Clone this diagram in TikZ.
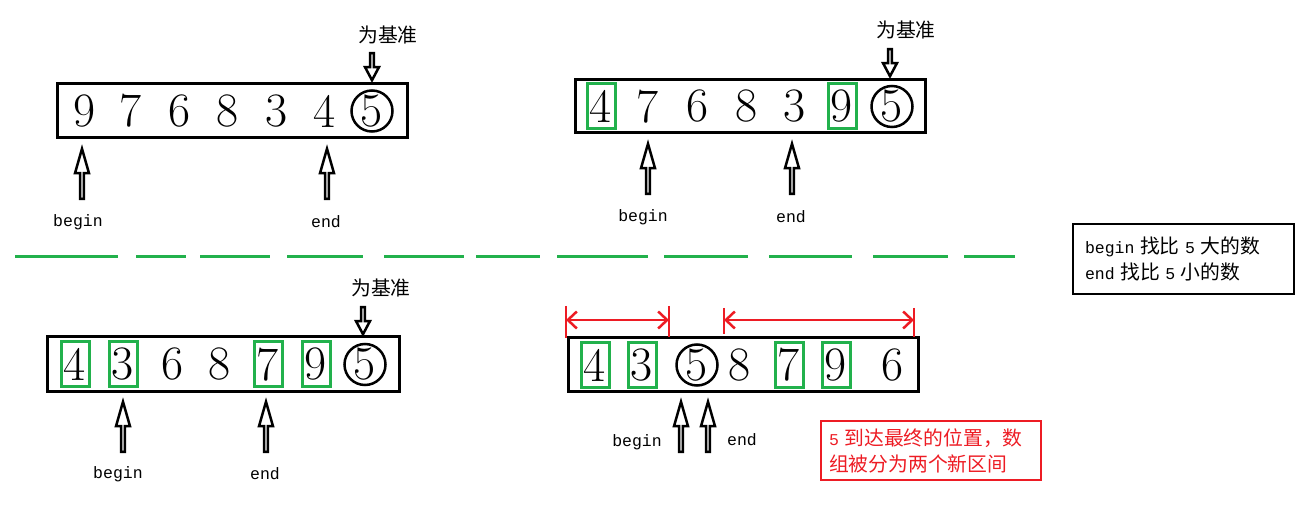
\documentclass[tikz,border=0pt]{standalone}
\usepackage{fontspec}
\setmonofont{Liberation Mono}
\newfontfamily\cjk[Scale=1.2]{Noto Sans CJK SC}
\usetikzlibrary{arrows.meta,shapes.arrows}
\definecolor{paintgreen}{RGB}{34,177,76}
\definecolor{paintred}{RGB}{237,28,36}

\begin{document}
\begin{tikzpicture}[x=1pt,y=-1pt,
    numcell/.style={inner sep=0pt, font=\fontsize{48}{48}\selectfont},
    nomark/.style={},
    greenbox/.style={draw=paintgreen, line width=3pt, minimum width=28pt, minimum height=45pt},
    pivot/.style={draw, circle, line width=2.5pt, minimum size=41pt},
    arraybox/.style={draw, line width=3pt, minimum width=350pt, minimum height=54pt},
    upptr/.style={single arrow, draw, line width=2.5pt, inner sep=0pt, minimum width=14pt,
        minimum height=50pt, single arrow head extend=3.5pt, single arrow tip angle=32,
        shape border rotate=90},
    downptr/.style={upptr, minimum height=27pt, single arrow tip angle=56, shape border rotate=270},
    lbl/.style={font=\ttfamily\fontsize{16.5}{26}\selectfont, inner sep=0pt},
    notebox/.style={lbl, draw, line width=2.5pt, align=left, inner ysep=0pt},
    redline/.style={paintred, line width=2.5pt},
    span/.style={redline, {Straight Barb[length=9pt,width=17pt]}-{Straight Barb[length=9pt,width=17pt]}}
]
\useasboundingbox (0,0) rectangle (1307,510);

% first step: 5 is the pivot
\node[arraybox] (arr1) at (232,111) {};
\foreach \d/\px/\mk [count=\i] in {9/85/nomark, 7/131/nomark, 6/180/nomark, 8/228/nomark,
    3/277/nomark, 4/325/nomark, 5/372/pivot}
  \node[numcell,\mk] (a1-\i) at (\px,111) {\d};
\node[lbl] (piv1) at (388,35) {\cjk 为基准};
\node[downptr] (piv1ptr) at (372,65) {};
\node[upptr] (beg1) at (82,177) {};
\node[upptr] (end1) at (327,177) {};
\node[lbl] (beg1l) at (78,222) {begin};
\node[lbl] (end1l) at (326,222) {end};

% second step: 4 and 9 swapped
\node[arraybox, minimum height=53pt] (arr2) at (750,106.5) {};
\foreach \d/\px/\mk [count=\i] in {4/601/greenbox, 7/648/nomark, 6/698/nomark, 8/747/nomark,
    3/795/nomark, 9/842/greenbox, 5/892/pivot}
  \node[numcell,\mk] (a2-\i) at (\px,106.5) {\d};
\node[lbl] (piv2) at (906,30) {\cjk 为基准};
\node[downptr] (piv2ptr) at (890,61) {};
\node[upptr] (beg2) at (648,172) {};
\node[upptr] (end2) at (792,172) {};
\node[lbl] (beg2l) at (643,217) {begin};
\node[lbl] (end2l) at (791,217) {end};

% separator
\foreach \sa/\sb in {15/118, 136/186, 200/270, 287/363, 384/464, 476/540,
    557/648, 664/748, 769/852, 873/948, 964/1015}
  \draw[paintgreen, line width=3pt] (\sa,257) -- (\sb,257);

\node[notebox, text width=197pt, inner xsep=12pt, minimum height=70pt] (legend) at (1183.5,259)
  {begin {\cjk 找比} 5 {\cjk 大的数}\\end {\cjk 找比} 5 {\cjk 小的数}\\[-8pt]};

% third step: 3 and 7 swapped
\node[arraybox, minimum width=352pt, minimum height=55pt] (arr3) at (223,364.5) {};
\foreach \d/\px/\mk [count=\i] in {4/75/greenbox, 3/123/greenbox, 6/173/nomark, 8/220/nomark,
    7/268/greenbox, 9/316/greenbox, 5/365/pivot}
  \node[numcell,\mk] (a3-\i) at (\px,364.5) {\d};
\node[lbl] (piv3) at (381,288) {\cjk 为基准};
\node[downptr] (piv3ptr) at (363,319) {};
\node[upptr] (beg3) at (123,430) {};
\node[upptr] (end3) at (266,430) {};
\node[lbl] (beg3l) at (118,474) {begin};
\node[lbl] (end3l) at (265,474) {end};

% last step: 5 in its final place
\node[arraybox] (arr4) at (743,365) {};
\foreach \d/\px/\mk [count=\i] in {4/595/greenbox, 3/642/greenbox, 5/697/pivot, 8/740/nomark,
    7/789/greenbox, 9/836/greenbox, 6/893/nomark}
  \node[numcell,\mk] (a4-\i) at (\px,365) {\d};
\node[upptr] (beg4) at (681,430) {};
\node[upptr] (end4) at (708,430) {};
\node[lbl] (beg4l) at (637,442) {begin};
\node[lbl] (end4l) at (742,440) {end};

\coordinate (leftA) at (566,320);
\coordinate (leftB) at (669,320);
\coordinate (rightA) at (724,320);
\coordinate (rightB) at (914,320);
\draw[redline] (leftA) ++(0,-14) -- ++(0,32);
\draw[redline] (leftB) ++(0,-14) -- ++(0,31);
\draw[redline] (rightA) ++(0,-12) -- ++(0,26);
\draw[redline] (rightB) ++(0,-12) -- ++(0,29);
\draw[span] (leftA) -- (leftB);
\draw[span] (rightA) -- (rightB);

\node[notebox, draw=paintred, text=paintred, text width=204pt, inner xsep=8pt,
  minimum height=59pt] (result) at (931,450.5)
  {5 {\cjk 到达最终的位置，数}\\{\cjk 组被分为两个新区间}};
\end{tikzpicture}
\end{document}
